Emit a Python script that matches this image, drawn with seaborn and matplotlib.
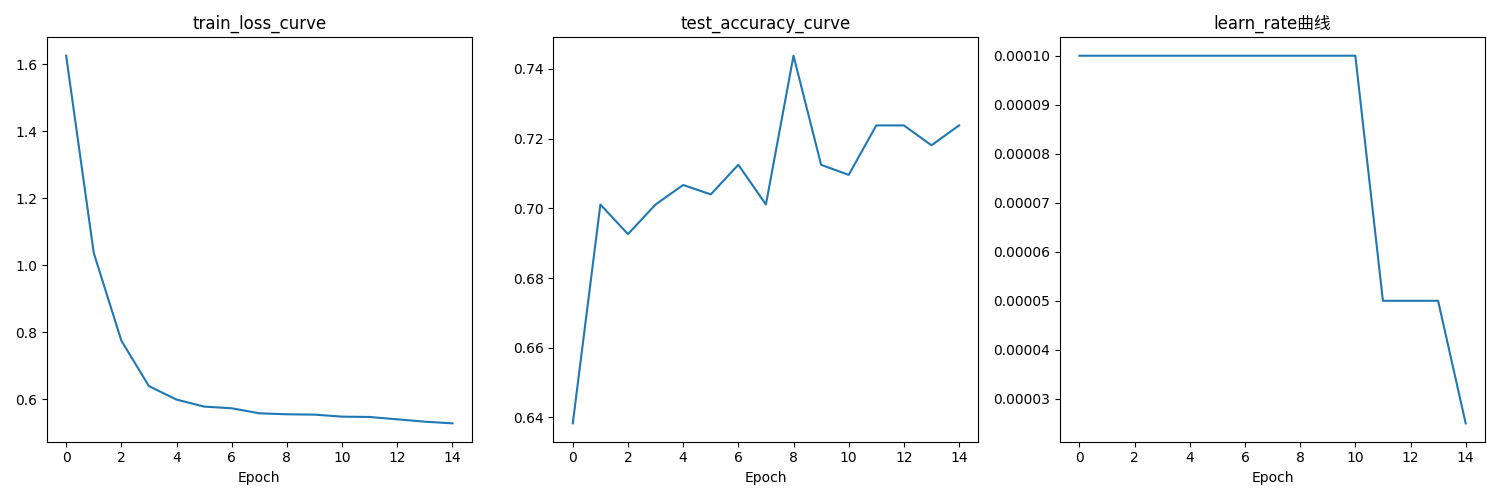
import numpy as np
import pandas as pd
import seaborn as sns
import matplotlib.pyplot as plt

# values
epochs = list(range(15))
train_loss = [1.626, 1.037, 0.775, 0.639, 0.599, 0.578, 0.573, 0.558, 0.555,
              0.554, 0.548, 0.547, 0.540, 0.533, 0.528]
test_acc = [0.6383, 0.7011, 0.6926, 0.7011, 0.7067, 0.7040, 0.7125, 0.7011,
            0.7438, 0.7125, 0.7096, 0.7238, 0.7238, 0.7181, 0.7238]
learn_rate = [1e-4] * 11 + [5e-5, 5e-5, 5e-5, 2.5e-5]

titles = ["train_loss_curve", "test_accuracy_curve", "learn_rate曲线"]

df = pd.DataFrame({"Epoch": epochs, "train_loss": train_loss,
                   "test_acc": test_acc, "learn_rate": learn_rate})

fig, axes = plt.subplots(1, 3, figsize=(15, 5), dpi=100)
for ax, col, title in zip(axes, ["train_loss", "test_acc", "learn_rate"], titles):
    sns.lineplot(data=df, x="Epoch", y=col, ax=ax, color="#1f77b4")
    ax.set_ylabel("")
    ax.set_title(title, fontsize=12, family=["DejaVu Sans", "Noto Sans CJK SC"])

plt.tight_layout()
plt.savefig("out.png")
